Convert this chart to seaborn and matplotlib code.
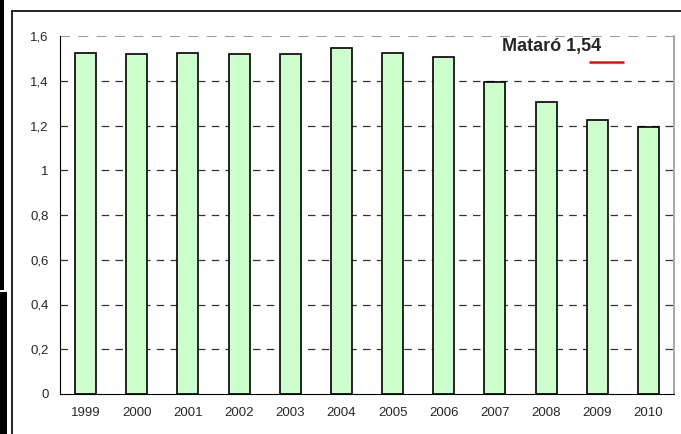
import matplotlib
matplotlib.use('Agg')
import matplotlib.pyplot as plt
import seaborn as sns
import pandas as pd
from matplotlib.patches import Rectangle
from matplotlib.lines import Line2D

# Data
years = ['1999', '2000', '2001', '2002', '2003', '2004',
         '2005', '2006', '2007', '2008', '2009', '2010']
values = [1.525, 1.52, 1.525, 1.52, 1.52, 1.545,
          1.525, 1.505, 1.395, 1.305, 1.225, 1.195]
y_ticks = [0, 0.2, 0.4, 0.6, 0.8, 1.0, 1.2, 1.4, 1.6]
y_labels = ['0', '0,2', '0,4', '0,6', '0,8', '1', '1,2', '1,4', '1,6']
note_text = 'Mataró 1,54'

df = pd.DataFrame({'year': years, 'value': values})

sns.set_style('white')
plt.rcParams['font.family'] = ['Liberation Sans', 'DejaVu Sans']

W, H = 681, 434
fig = plt.figure(figsize=(W / 100, H / 100), dpi=100)

# outer frame and black strip on the left edge
fig.add_artist(Line2D([12 / W, 1], [1 - 11 / H, 1 - 11 / H], color='black', lw=1.2))
fig.add_artist(Line2D([12 / W, 12 / W], [0, 1 - 11 / H], color='black', lw=1.2))
fig.add_artist(Rectangle((0, 1 - 290 / H), 4 / W, 290 / H, color='black', lw=0))
fig.add_artist(Rectangle((0, 0), 7 / W, 1 - 292 / H, color='black', lw=0))

ax = fig.add_axes([60 / W, (H - 394) / H, (674 - 60) / W, (394 - 36) / H])

sns.barplot(data=df, x='year', y='value', ax=ax, color='#CCFFCC',
            edgecolor='black', linewidth=1.2, width=0.41, saturation=1)

ax.set_ylim(0, 1.6)
ax.set_xlim(-0.5, len(years) - 0.5)
ax.set_yticks(y_ticks)
ax.set_yticklabels(y_labels)
ax.set_xlabel('')
ax.set_ylabel('')

# dashed gridlines
for t in y_ticks[1:-1]:
    ax.axhline(t, color='#333333', lw=0.9, ls=(0, (6, 5)), zorder=0)
ax.axhline(1.6, color='#888888', lw=1.2, ls=(0, (6, 5)), zorder=0)

# x ticks between categories
ax.set_xticks([i - 0.5 for i in range(len(years) + 1)], minor=True)
ax.set_xticks(range(len(years)))
ax.set_xticklabels(years)
ax.tick_params(axis='x', which='major', length=0, pad=9, labelsize=9.5)
ax.tick_params(axis='x', which='minor', direction='out', length=5, width=0.9, color='black')
ax.tick_params(axis='y', direction='inout', length=8, width=0.9, color='black',
               labelsize=9.5, pad=4)

ax.spines['top'].set_visible(False)
ax.spines['left'].set_color('black')
ax.spines['bottom'].set_color('black')
ax.spines['right'].set_color('#999999')
ax.spines['right'].set_linewidth(1.2)

# average note with its red line
ax.text(0.72, 0.972, note_text, transform=ax.transAxes, fontsize=13,
        fontweight='bold', ha='left', va='center')
ax.plot([0.861, 0.918], [0.928, 0.928], transform=ax.transAxes,
        color='red', lw=1.8, solid_capstyle='butt')

plt.savefig('out.png', dpi=100)
plt.close()
